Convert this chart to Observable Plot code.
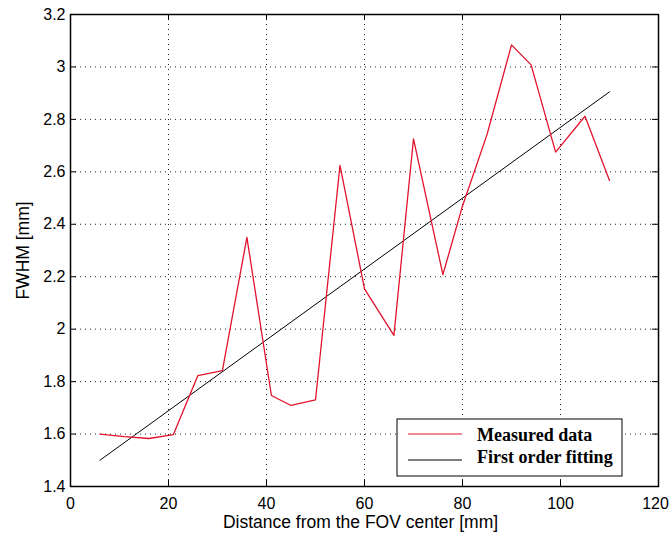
<!DOCTYPE html>
<html>
<head>
<meta charset="utf-8">
<script src="https://cdn.jsdelivr.net/npm/d3@7"></script>
<script src="https://cdn.jsdelivr.net/npm/@observablehq/plot@0.6"></script>
<style>
  body { margin: 0; background: #fff; }
  #chart svg { display: block; }
</style>
</head>
<body>
<div id="chart"></div>
<script>
const distance = [6, 11, 16, 21, 26, 31, 36, 41, 45, 50, 55, 60, 66, 70, 76, 80, 85, 90, 94, 99, 105, 110];
const fwhm = [1.60, 1.59, 1.583, 1.598, 1.823, 1.842, 2.35, 1.747, 1.709, 1.73, 2.625, 2.154, 1.976, 2.726, 2.208, 2.47, 2.742, 3.084, 3.008, 2.675, 2.812, 2.567];
// First order fitting endpoints
const fitDistance = [6, 110];
const fitFwhm = [1.50, 2.905];
// Axis ticks
const xTicks = [0, 20, 40, 60, 80, 100, 120];
const yTicks = [1.4, 1.6, 1.8, 2.0, 2.2, 2.4, 2.6, 2.8, 3.0, 3.2];
const yTickLabels = ["1.4", "1.6", "1.8", "2", "2.2", "2.4", "2.6", "2.8", "3", "3.2"];
// Labels
const seriesNames = ["Measured data", "First order fitting"];
const xLabel = "Distance from the FOV center [mm]";
const yLabel = "FWHM [mm]";

const measured = distance.map((d, i) => ({x: d, y: fwhm[i]}));
const fitted = fitDistance.map((d, i) => ({x: d, y: fitFwhm[i]}));

const W = 670, H = 538;
const M = {top: 14, right: 12, bottom: 52, left: 70};
const plotW = W - M.left - M.right;
const plotH = H - M.top - M.bottom;
const tickLen = 6;
const RED = "#e2132d";

const legendMark = (index, scales, values, dims) => {
  const bw = 225, bh = 57;
  const bx = dims.width - dims.marginRight - 36 - bw;
  const by = dims.height - dims.marginBottom - 10 - bh;
  const g = d3.create("svg:g");
  g.append("rect").attr("x", bx).attr("y", by).attr("width", bw).attr("height", bh)
    .attr("fill", "white").attr("stroke", "black").attr("stroke-width", 1);
  const colors = [RED, "#000"];
  const rows = [15, 41];
  const baselines = [22, 44];
  seriesNames.forEach((name, i) => {
    g.append("line").attr("x1", bx + 11).attr("x2", bx + 65)
      .attr("y1", by + rows[i]).attr("y2", by + rows[i])
      .attr("stroke", colors[i]).attr("stroke-width", 1.2);
    g.append("text").attr("x", bx + 80).attr("y", by + baselines[i])
      .attr("text-anchor", "start")
      .attr("font-family", "'Liberation Serif', 'Times New Roman', serif")
      .attr("font-weight", "bold").attr("font-size", 18)
      .attr("fill", "black").text(name);
  });
  return g.node();
};

const lastX = xTicks[xTicks.length - 1];

const chart = Plot.plot({
  width: W,
  height: H,
  marginTop: M.top,
  marginRight: M.right,
  marginBottom: M.bottom,
  marginLeft: M.left,
  style: {fontFamily: "'Liberation Sans', Arial, sans-serif", fontSize: "16px", background: "white", color: "black", overflow: "visible"},
  x: {domain: [0, 120]},
  y: {domain: [1.4, 3.2]},
  marks: [
    Plot.ruleX(xTicks, {x: d => d, stroke: "#222", strokeDasharray: "1,4", strokeWidth: 1}),
    Plot.ruleY(yTicks, {y: d => d, stroke: "#222", strokeDasharray: "1,4", strokeWidth: 1}),
    Plot.tickX(xTicks, {x: d => d, insetTop: plotH - tickLen, stroke: "black"}),
    Plot.tickX(xTicks, {x: d => d, insetBottom: plotH - tickLen, stroke: "black"}),
    Plot.tickY(yTicks, {y: d => d, insetRight: plotW - tickLen, stroke: "black"}),
    Plot.tickY(yTicks, {y: d => d, insetLeft: plotW - tickLen, stroke: "black"}),
    Plot.axisX(xTicks.filter(d => d !== lastX), {tickSize: 0, tickPadding: 11, label: null, fontSize: 16, fill: "black"}),
    Plot.axisX([lastX], {tickSize: 0, tickPadding: 11, label: null, fontSize: 16, fill: "black", dx: -3}),
    Plot.axisY(yTicks, {tickSize: 0, tickPadding: 5, label: null, fontSize: 16, fill: "black",
      tickFormat: d => yTickLabels[yTicks.indexOf(d)]}),
    Plot.line(fitted, {x: "x", y: "y", stroke: "black", strokeWidth: 1}),
    Plot.line(measured, {x: "x", y: "y", stroke: RED, strokeWidth: 1.3}),
    Plot.frame({stroke: "black", strokeWidth: 1.5}),
    Plot.text([xLabel], {text: d => d, frameAnchor: "bottom", lineAnchor: "middle", textAnchor: "middle", dy: 36, dx: -4, fontSize: 17.5, fill: "black"}),
    Plot.text([yLabel], {text: d => d, frameAnchor: "left", lineAnchor: "middle", textAnchor: "middle", rotate: -90, dx: -47.5, fontSize: 17.5, fill: "black"}),
    legendMark
  ]
});

document.getElementById("chart").appendChild(chart);
</script>
</body>
</html>
